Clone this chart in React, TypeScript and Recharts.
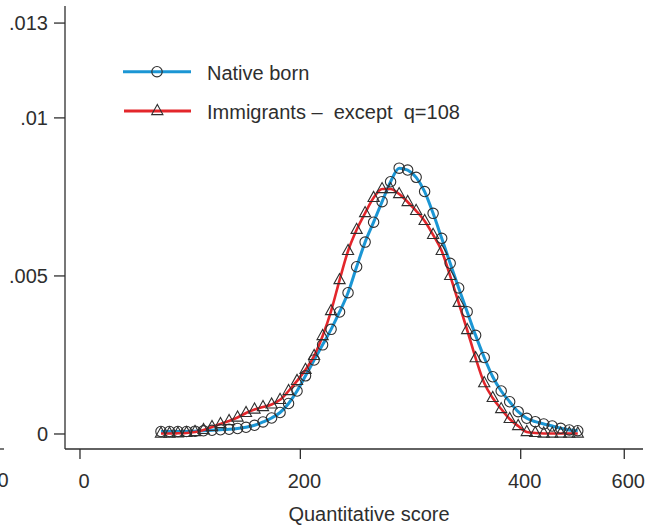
import { LineChart, Line, XAxis, YAxis, Legend } from "recharts";

// kernel density evaluated at 50 points (score)
const scores = [
  73.5, 81.2, 88.9, 96.7, 104.4, 112.1, 119.8, 127.5, 135.3, 143.0,
  150.7, 158.4, 166.1, 173.9, 181.6, 189.3, 197.0, 204.7, 212.5, 220.2,
  227.9, 235.6, 243.3, 251.1, 258.8, 266.5, 274.2, 281.9, 289.7, 297.4,
  305.1, 312.8, 320.5, 328.3, 336.0, 343.7, 351.4, 359.1, 366.9, 374.6,
  382.3, 390.0, 397.7, 405.5, 413.2, 420.9, 428.6, 436.3, 444.1, 451.8,
];

const nativeBorn = [
  0.000079, 0.000079, 0.000079, 0.000079, 0.000089, 0.000101, 0.000117, 0.000133, 0.000149, 0.000174,
  0.000212, 0.000275, 0.00038, 0.000506, 0.00068, 0.000965, 0.00136, 0.00184, 0.00234, 0.00282,
  0.00331, 0.00386, 0.00447, 0.00529, 0.00607, 0.0067, 0.00735, 0.00798, 0.00841, 0.00835,
  0.00812, 0.00767, 0.00698, 0.00619, 0.0054, 0.00462, 0.00387, 0.00312, 0.00242, 0.00181,
  0.00136, 0.00102, 0.000706, 0.000497, 0.000389, 0.000316, 0.000253, 0.00018, 0.000127, 0.000104,
];

const immigrants = [
  0.000016, 0.000016, 0.000022, 0.000032, 0.000063, 0.000127, 0.000222, 0.000316, 0.000411, 0.000522,
  0.000665, 0.000775, 0.000854, 0.000934, 0.00108, 0.00136, 0.00168, 0.00203, 0.00247, 0.0031,
  0.00389, 0.00487, 0.00579, 0.00646, 0.00699, 0.00747, 0.00775, 0.00775, 0.00759, 0.00734,
  0.00706, 0.00674, 0.0063, 0.00579, 0.005, 0.00415, 0.00329, 0.0024, 0.00161, 0.00114,
  0.00079, 0.000475, 0.000253, 0.000063, 0.000032, 0.000016, 0.000016, 0.000016, 0.000016, 0.000016,
];

const xTicks = [0, 200, 400, 494];
const xTickLabels = ["0", "200", "400", "600"];
const yTicks = [0, 0.005, 0.01, 0.013];
const yTickLabels = ["0", ".005", ".01", ".013"];

const seriesNames = ["Native born", "Immigrants \u2013  except  q=108"];

const data = scores.map((s, i) => ({
  score: s,
  native: nativeBorn[i],
  immig: immigrants[i],
}));

const FONT = "'Liberation Sans', Arial, sans-serif";
const FS = 20;
const INK = "#2e2e2e";
const BLUE = "#1b96d4";
const RED = "#e3262b";

const circleDot = (p: any) => (
  <circle key={`c${p.index}`} cx={p.cx} cy={p.cy} r={5.2} fill="none" stroke={INK} strokeWidth={1.1} />
);

const triPoints = (cx: number, cy: number) =>
  `${cx},${cy - 6.5} ${cx - 5.6},${cy + 3.6} ${cx + 5.6},${cy + 3.6}`;

const triangleDot = (p: any) => (
  <polygon key={`t${p.index}`} points={triPoints(p.cx, p.cy)} fill="none" stroke={INK} strokeWidth={1.1} />
);

const XTick = (p: any) => {
  const i = xTicks.indexOf(p.payload.value);
  return (
    <text x={p.x + 4} y={p.y + 29} textAnchor="middle" fill={INK} fontSize={FS} fontFamily={FONT}>
      {xTickLabels[i]}
    </text>
  );
};

const YTick = (p: any) => {
  const i = yTicks.indexOf(p.payload.value);
  return (
    <text x={p.x} y={p.y + 7} textAnchor="end" fill={INK} fontSize={FS} fontFamily={FONT}>
      {yTickLabels[i]}
    </text>
  );
};

const renderLegend = () => (
  <svg width={500} height={80}>
    <line x1={13} x2={81} y1={21.7} y2={21.7} stroke={BLUE} strokeWidth={3} />
    <circle cx={47} cy={21.7} r={5.2} fill="none" stroke={INK} strokeWidth={1.1} />
    <text x={97} y={30} fill={INK} fontSize={FS} fontFamily={FONT}>{seriesNames[0]}</text>
    <line x1={14} x2={81} y1={61} y2={61} stroke={RED} strokeWidth={3} />
    <polygon points={triPoints(47.3, 61)} fill="none" stroke={INK} strokeWidth={1.1} />
    <text x={97} y={68.5} fill={INK} fontSize={FS} fontFamily={FONT} xmlSpace="preserve" style={{ whiteSpace: "pre" }}>
      {seriesNames[1]}
    </text>
  </svg>
);

export default function App() {
  return (
    <div style={{ position: "absolute", left: 0, top: 0, width: 661, height: 529, background: "#fff" }}>
      <LineChart width={661} height={529} data={data} margin={{ top: 6, right: 18, bottom: 0, left: 0 }}>
        <XAxis
          type="number"
          dataKey="score"
          domain={[-13.6, 511]}
          ticks={xTicks}
          tick={XTick}
          tickSize={10}
          tickMargin={0}
          height={80}
          stroke={INK}
          axisLine={{ stroke: INK, strokeWidth: 1.3 }}
          tickLine={{ stroke: INK, strokeWidth: 1.3 }}
          label={{
            value: "Quantitative score",
            content: (lp: any) => (
              <text x={369} y={521} textAnchor="middle" fill={INK} fontSize={FS} fontFamily={FONT}>
                {lp.value}
              </text>
            ),
          }}
        />
        <YAxis
          type="number"
          domain={[-0.000475, 0.01354]}
          ticks={yTicks}
          tick={YTick}
          tickSize={11}
          tickMargin={6}
          width={65}
          stroke={INK}
          axisLine={{ stroke: INK, strokeWidth: 1.3 }}
          tickLine={{ stroke: INK, strokeWidth: 1.3 }}
        />
        <Legend
          layout="horizontal"
          verticalAlign="middle"
          align="center"
          content={renderLegend}
          wrapperStyle={{ left: 110, top: 50, width: 500, height: 80 }}
        />
        <Line
          type="monotone"
          dataKey="native"
          name={seriesNames[0]}
          stroke={BLUE}
          strokeWidth={3}
          dot={circleDot}
          activeDot={false}
          isAnimationActive={false}
        />
        <Line
          type="monotone"
          dataKey="immig"
          name={seriesNames[1]}
          stroke={RED}
          strokeWidth={2.6}
          dot={triangleDot}
          activeDot={false}
          isAnimationActive={false}
        />
      </LineChart>
      <svg width={20} height={529} style={{ position: "absolute", left: 0, top: 0 }}>
        <line x1={0} x2={4} y1={449} y2={449} stroke={INK} strokeWidth={1.3} />
        <text x={3} y={487} textAnchor="middle" fill={INK} fontSize={FS} fontFamily={FONT}>0</text>
      </svg>
    </div>
  );
}
